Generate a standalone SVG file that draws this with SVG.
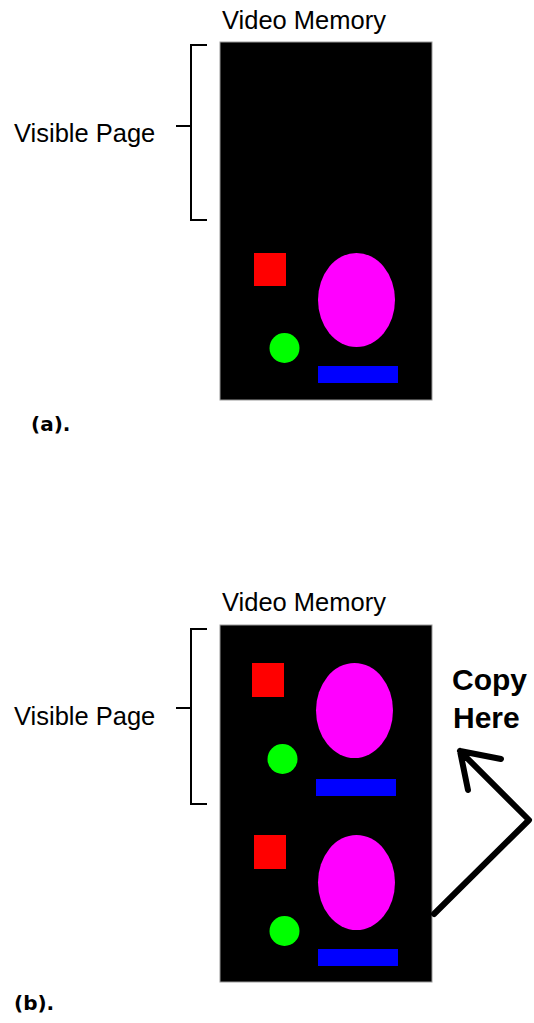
<svg xmlns="http://www.w3.org/2000/svg" width="534" height="1023" viewBox="0 0 534 1023">
<style>
.lbl{font-family:"Liberation Sans",Arial,sans-serif;font-size:25.5px;fill:#000}
.big{font-family:"Liberation Sans",Arial,sans-serif;font-size:30px;font-weight:bold;fill:#000}
.cap{font-family:"DejaVu Sans",sans-serif;font-size:20px;font-weight:bold;fill:#000}
.mem{fill:#000;stroke:#999;stroke-width:1}
.br{fill:none;stroke:#000;stroke-width:2}
.red{fill:#ff0000}.mag{fill:#ff00ff}.grn{fill:#00ff00}.blu{fill:#0000ff}
.arr{fill:none;stroke:#000;stroke-width:6;stroke-linecap:round;stroke-linejoin:round}
</style>
<rect width="534" height="1023" fill="#fff"/>
<g id="diagram-a">
  <text class="lbl" x="222" y="29">Video Memory</text>
  <rect class="mem" x="220" y="42" width="212" height="358"/>
  <path class="br" d="M207,45 H191 V220 H207 M191,126 H176"/>
  <text class="lbl" x="14" y="142">Visible Page</text>
  <rect class="red" x="254" y="253" width="32" height="33"/>
  <ellipse class="mag" cx="356.5" cy="300" rx="38.5" ry="47"/>
  <circle class="grn" cx="284.5" cy="348" r="15"/>
  <rect class="blu" x="318" y="366" width="80" height="17"/>
  <text class="cap" x="31" y="431">(a).</text>
</g>
<g id="diagram-b">
  <text class="lbl" x="222" y="611">Video Memory</text>
  <rect class="mem" x="220" y="625" width="212" height="357"/>
  <path class="br" d="M207,629 H191 V804 H207 M191,708 H176"/>
  <text class="lbl" x="14" y="725">Visible Page</text>
  <rect class="red" x="252" y="663" width="32" height="34"/>
  <ellipse class="mag" cx="354.5" cy="710.5" rx="38.5" ry="47.5"/>
  <circle class="grn" cx="282.5" cy="759" r="15"/>
  <rect class="blu" x="316" y="779" width="80" height="17"/>
  <rect class="red" x="254" y="835" width="32" height="34"/>
  <ellipse class="mag" cx="356.5" cy="882.5" rx="38.5" ry="47.5"/>
  <circle class="grn" cx="284.5" cy="931" r="15"/>
  <rect class="blu" x="318" y="949" width="80" height="17"/>
  <text class="big" x="452" y="690">Copy</text>
  <text class="big" x="453" y="728">Here</text>
  <text class="cap" x="14" y="1010">(b).</text>
</g>
<g id="connectors">
  <path class="arr" d="M434,914 L529,820 L460,751 M460,751 L501,759 M460,751 L468,790"/>
</g>
</svg>
